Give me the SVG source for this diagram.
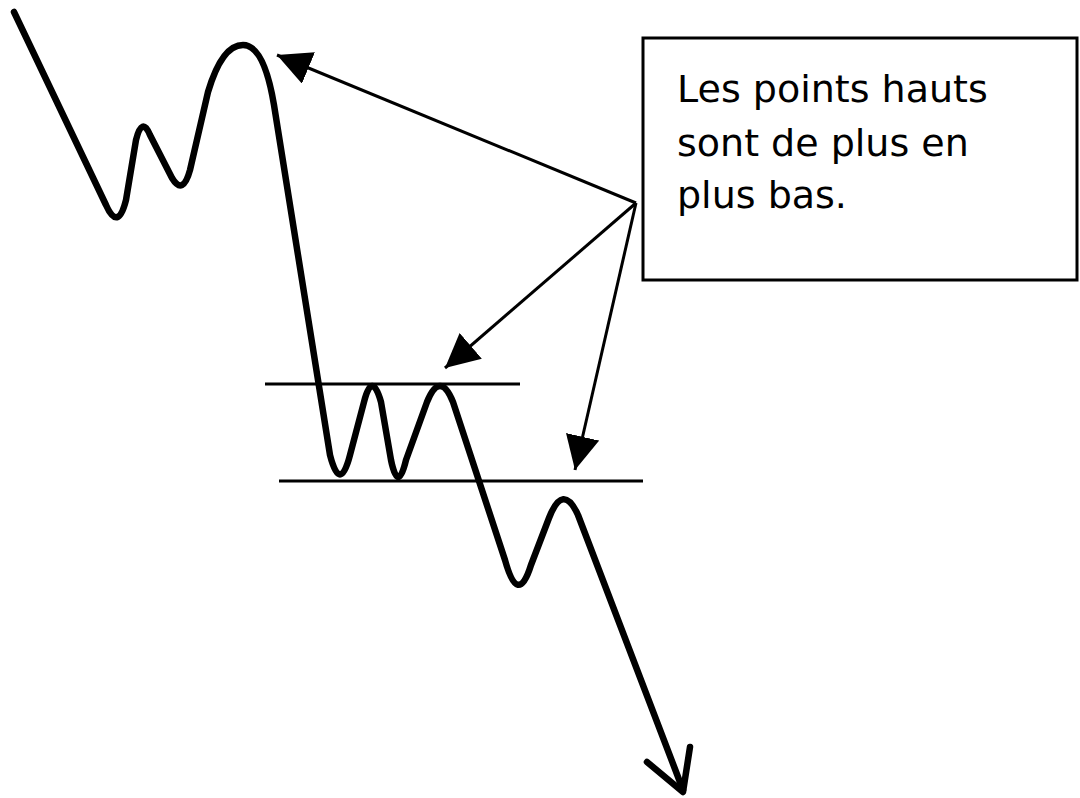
<svg xmlns="http://www.w3.org/2000/svg" width="1080" height="798" viewBox="0 0 1080 798">
<style>
.curve{fill:none;stroke:#000;stroke-width:6.5;stroke-linejoin:round;stroke-linecap:round}
.level{stroke:#000;stroke-width:3}
.conn{stroke:#000;stroke-width:3;fill:none}
.box{fill:#fff;stroke:#000;stroke-width:3}
.label{font-family:"DejaVu Sans","Liberation Sans",sans-serif;font-size:38px;fill:#000}
</style>
<defs>
<marker id="head" markerUnits="userSpaceOnUse" markerWidth="36" markerHeight="36" refX="34" refY="17" orient="auto">
<path d="M0,0 L34,17 L0,34 Z" fill="#000"/>
</marker>
</defs>
<rect width="1080" height="798" fill="#fff"/>
<g id="price-curve">
<path class="curve" d="M14,12 L106,205 Q118,232 126,200 L136,140 Q142,116 150,135 L172,178 Q183,196 190,170 L208,92 Q222,45 243,45 Q264,45 274,105 L330,455 Q340,494 350,455 L364,402 Q372,370 381,402 L391,460 Q398,494 406,460 L427,402 Q440,370 453,402 L505,560 Q518,607 531,565 L549,518 Q563,482 578,515 L683,790"/>
<path class="curve" d="M647,762 L683,792 L690,747"/>
</g>
<g id="levels">
<line class="level" x1="265" y1="384" x2="520" y2="384"/>
<line class="level" x1="279" y1="481" x2="643" y2="481"/>
</g>
<g id="note">
<rect class="box" x="643" y="38" width="434" height="242"/>
<text class="label" x="677" y="102">Les points hauts</text>
<text class="label" x="677" y="156">sont de plus en</text>
<text class="label" x="677" y="208">plus bas.</text>
</g>
<g id="connectors">
<line class="conn" x1="636" y1="203" x2="277" y2="55" marker-end="url(#head)"/>
<line class="conn" x1="636" y1="203" x2="445" y2="368" marker-end="url(#head)"/>
<line class="conn" x1="636" y1="203" x2="575" y2="470" marker-end="url(#head)"/>
</g>
</svg>
